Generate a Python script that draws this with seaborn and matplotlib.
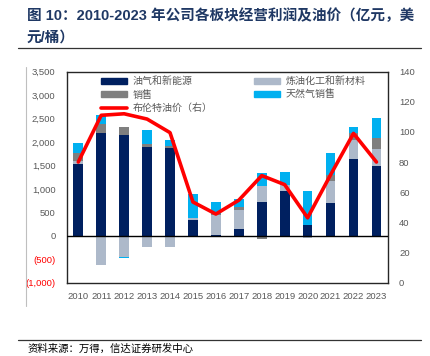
import numpy as np
import pandas as pd
import matplotlib
matplotlib.use("Agg")
import matplotlib.pyplot as plt
from matplotlib.patches import Patch
from matplotlib.lines import Line2D
from matplotlib.ticker import FuncFormatter
import seaborn as sns

sns.set_theme(style="white")
plt.rcParams['font.family'] = ['Liberation Sans', 'Noto Sans CJK SC', 'DejaVu Sans']

# data (亿元, 美元/桶)
years = ["2010", "2011", "2012", "2013", "2014", "2015", "2016",
         "2017", "2018", "2019", "2020", "2021", "2022", "2023"]
oil_gas = [1540, 2190, 2140, 1890, 1860, 340, 20, 150, 730, 950, 220, 690, 1640, 1490]
refining = [60, -620, -460, -250, -250, 35, 430, 390, 340, 140, -50, 480, 410, 360]
marketing = [170, 190, 170, 60, 60, 0, 20, 70, -60, 0, 0, 120, 140, 230]
gas_sales = [210, 190, -15, 300, 130, 520, 250, 170, 260, 260, 730, 470, 130, 440]
brent = [80, 111, 112, 108.5, 99.5, 53.5, 45.5, 54.7, 71, 65, 43, 71.5, 99, 80]

labels = ["油气和新能源", "炼油化工和新材料", "销售", "天然气销售"]
colors = ["#002060", "#ADB9CA", "#7F7F7F", "#00B0F0"]
series = [oil_gas, refining, marketing, gas_sales]

fig = plt.figure(figsize=(4.31, 3.56), dpi=100)
ax = fig.add_axes([0.155, 0.206, 0.745, 0.593])

x = np.arange(len(years))
pos_base = np.zeros(len(years))
neg_base = np.zeros(len(years))
for vals, c in zip(series, colors):
    v = np.array(vals, dtype=float)
    bottom = np.where(v >= 0, pos_base, neg_base)
    ax.bar(x, v, bottom=bottom, width=0.42, color=c, linewidth=0, zorder=2)
    pos_base += np.where(v >= 0, v, 0)
    neg_base += np.where(v < 0, v, 0)

ax.axhline(0, color="black", lw=1, zorder=3)
ax.set_xlim(-0.5, len(years) - 0.5)
ax.set_ylim(-1000, 3500)
ax.set_yticks(np.arange(-1000, 3501, 500))
ax.yaxis.set_major_formatter(FuncFormatter(
    lambda v, p: f"({abs(int(v)):,})" if v < 0 else f"{int(v):,}"))
ax.set_xticks(x)
ax.set_xticklabels(years)
ax.tick_params(axis="both", length=0, labelsize=6.8, labelcolor="#595959")
ax.tick_params(axis="y", pad=8)
ax.tick_params(axis="x", pad=7)
for t in ax.get_yticklabels():
    if t.get_text().startswith("("):
        t.set_color("#FF0000")
for s in ax.spines.values():
    s.set_color("#262626")
    s.set_linewidth(1)

ax2 = ax.twinx()
df = pd.DataFrame({"x": x, "brent": brent})
sns.lineplot(data=df, x="x", y="brent", ax=ax2, color="#FF0000", lw=2.6, zorder=5)
ax2.set_ylim(0, 140)
ax2.set_yticks(np.arange(0, 141, 20))
ax2.set_ylabel("")
ax2.set_xlabel("")
ax2.tick_params(axis="y", length=0, labelsize=6.8, labelcolor="#595959", pad=8)
for s in ax2.spines.values():
    s.set_visible(False)
ax.set_xlabel("")

handles = [Patch(color=colors[0]), Patch(color=colors[2]),
           Line2D([], [], color="#FF0000", lw=2.6),
           Patch(color=colors[1]), Patch(color=colors[3])]
names = [labels[0], labels[2], "布伦特油价（右）", labels[1], labels[3]]
leg = ax2.legend(handles, names, ncol=2, loc="upper left", bbox_to_anchor=(0.08, 1.02),
                 frameon=False, fontsize=7.2, handlelength=2.6, handleheight=0.6,
                 columnspacing=4.2, labelspacing=0.35, handletextpad=0.5)
for t in leg.get_texts():
    t.set_color("#595959")

# title and source
title_kw = dict(fontsize=10.5, fontweight="bold", color="#1F3864", va="center", ha="left")
fig.text(27 / 431, 1 - 16 / 356, "图 10：2010-2023 年公司各板块经营利润及油价（亿元，美", **title_kw)
fig.text(27 / 431, 1 - 38 / 356, "元/桶）", **title_kw)
fig.add_artist(Line2D([18 / 431, 421 / 431], [1 - 48 / 356, 1 - 48 / 356],
                      color="#333333", lw=0.9))
fig.add_artist(Line2D([26 / 431, 26 / 431], [1 - 67 / 356, 1 - 306 / 356],
                      color="#BFBFBF", lw=0.8))
fig.add_artist(Line2D([18 / 431, 421 / 431], [1 - 340 / 356, 1 - 340 / 356],
                      color="#333333", lw=0.9))
fig.text(28 / 431, 1 - 349 / 356, "资料来源：万得，信达证券研发中心",
         fontsize=7.5, style="italic", color="#000000", va="center", ha="left")

fig.savefig("out.png", dpi=100)
